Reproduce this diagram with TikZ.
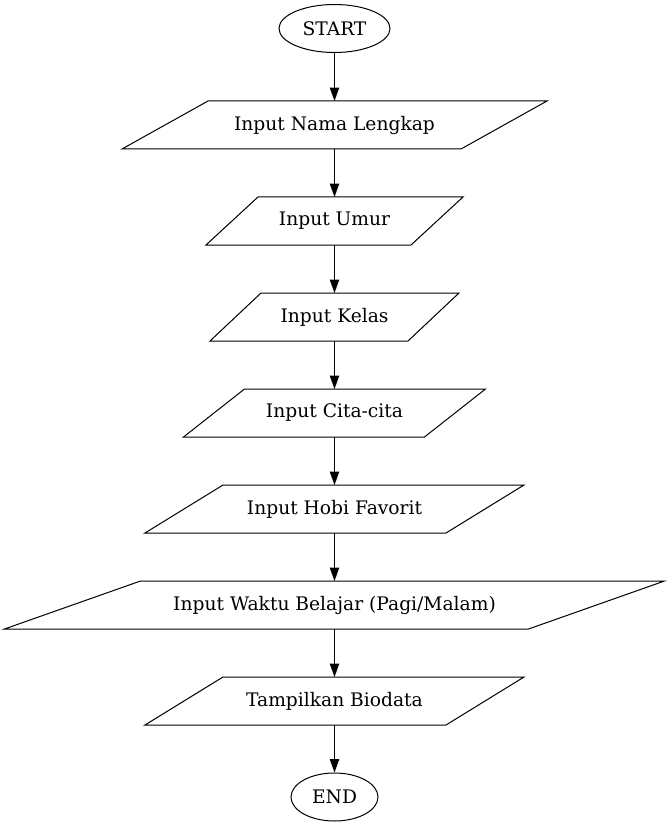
\documentclass[tikz,border=0pt]{standalone}
\usepackage{fontspec}
\setmainfont{DejaVu Serif}
\usetikzlibrary{shapes.geometric,arrows.meta}
\begin{document}
\begin{tikzpicture}[x=0.75pt,y=0.75pt,
		terminal/.style={ellipse,draw,line width=0.75pt,minimum height=36pt,inner sep=0pt},
		io/.style={rectangle,minimum height=36pt,inner sep=0pt,outer sep=0pt,
			append after command={\pgfextra{\draw[line width=0.75pt]
				([xshift=#1*0.75pt]\tikzlastnode.north west) -- (\tikzlastnode.north east)
				-- ([xshift=-#1*0.75pt]\tikzlastnode.south east) -- (\tikzlastnode.south west) -- cycle;}}},
		flow/.style={-{Triangle[length=10pt,width=7pt]},line width=0.75pt},
		font=\fontsize{14}{16}\selectfont]
	\useasboundingbox (0,0) rectangle (669,-827);
	\node[terminal,minimum width=83.25pt] (start) at (334.5,-28.5) {START};
	\node[io=86,minimum width=318.75pt] (nama) at (334.5,-125) {Input Nama Lengkap};
	\node[io=52,minimum width=192.75pt] (umur) at (334.5,-221) {Input Umur};
	\node[io=51,minimum width=186.75pt] (kelas) at (334.5,-317) {Input Kelas};
	\node[io=61,minimum width=226.5pt] (cita) at (334.5,-413) {Input Cita-cita};
	\node[io=78,minimum width=284.25pt] (hobi) at (334.5,-509) {Input Hobi Favorit};
	\node[io=136,minimum width=495pt] (waktu) at (334.5,-605) {Input Waktu Belajar (Pagi/Malam)};
	\node[io=78,minimum width=284.25pt] (biodata) at (334.5,-701) {Tampilkan Biodata};
	\node[terminal,minimum width=65.25pt] (end) at (334.5,-797) {END};
	\foreach \a/\b in {start/nama,nama/umur,umur/kelas,kelas/cita,cita/hobi,hobi/waktu,waktu/biodata,biodata/end}
		\draw[flow] (\a) -- (\b);
\end{tikzpicture}
\end{document}
